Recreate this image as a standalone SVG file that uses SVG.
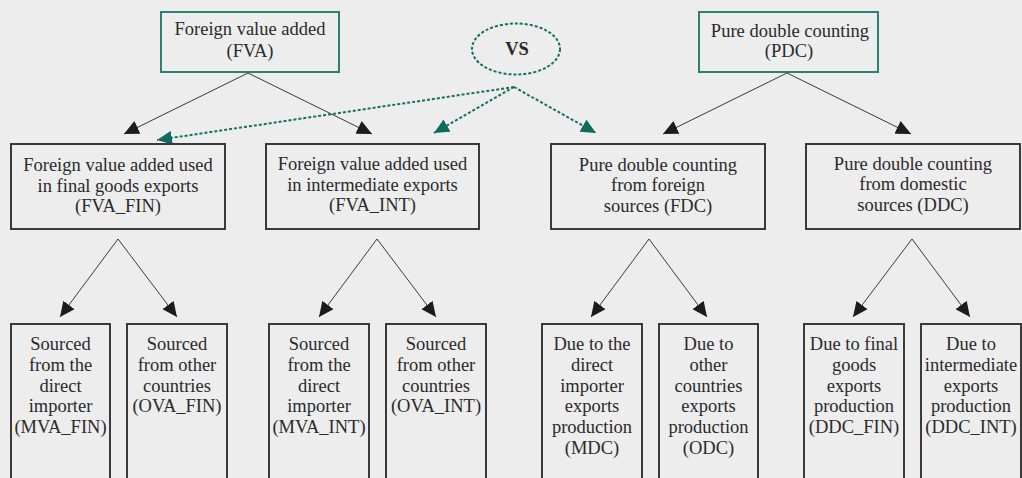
<svg xmlns="http://www.w3.org/2000/svg" width="1022" height="478" viewBox="0 0 1022 478">
<defs>
<style>
text{font-family:"Liberation Serif","Times New Roman",serif;font-size:18.5px;fill:#2a2a2a;text-anchor:middle}
.top{fill:none;stroke:#2b8074;stroke-width:2}
.box{fill:none;stroke:#3a3a3a;stroke-width:2}
.ln{stroke:#3a3a3a;stroke-width:1;fill:none}
.dl{stroke:#16705f;stroke-width:2;stroke-dasharray:3 2;fill:none}
.vs{font-weight:bold}
</style>
<marker id="ab" markerUnits="userSpaceOnUse" markerWidth="15" markerHeight="14" refX="15" refY="7" orient="auto" viewBox="0 0 15 14">
<path d="M0,0 L15,7 L0,14 z" fill="#1c1c1c"/>
</marker>
<marker id="at" markerUnits="userSpaceOnUse" markerWidth="15" markerHeight="14" refX="15" refY="7" orient="auto" viewBox="0 0 15 14">
<path d="M0,0 L15,7 L0,14 z" fill="#0f6b5d"/>
</marker>
</defs>
<rect x="0" y="0" width="1022" height="478" fill="#ededed"/>

<g id="connectors">
<line class="ln" x1="248" y1="73" x2="124" y2="134" marker-end="url(#ab)"/>
<line class="ln" x1="248" y1="73" x2="372" y2="134" marker-end="url(#ab)"/>
<line class="ln" x1="787" y1="73" x2="663" y2="134" marker-end="url(#ab)"/>
<line class="ln" x1="787" y1="73" x2="911" y2="134" marker-end="url(#ab)"/>
<line class="dl" x1="514" y1="87" x2="157" y2="140" marker-end="url(#at)"/>
<line class="dl" x1="514" y1="87" x2="434" y2="133" marker-end="url(#at)"/>
<line class="dl" x1="514" y1="87" x2="596" y2="133" marker-end="url(#at)"/>
<line class="ln" x1="118" y1="239" x2="60" y2="317" marker-end="url(#ab)"/>
<line class="ln" x1="118" y1="239" x2="177" y2="317" marker-end="url(#ab)"/>
<line class="ln" x1="377" y1="239" x2="319" y2="317" marker-end="url(#ab)"/>
<line class="ln" x1="377" y1="239" x2="436" y2="317" marker-end="url(#ab)"/>
<line class="ln" x1="649" y1="239" x2="591" y2="317" marker-end="url(#ab)"/>
<line class="ln" x1="649" y1="239" x2="707" y2="317" marker-end="url(#ab)"/>
<line class="ln" x1="912" y1="239" x2="853" y2="317" marker-end="url(#ab)"/>
<line class="ln" x1="912" y1="239" x2="970" y2="317" marker-end="url(#ab)"/>
</g>

<g id="fva">
<rect class="top" x="161" y="12" width="178" height="60"/>
<text x="250" y="35">Foreign value added</text>
<text x="250" y="57">(FVA)</text>
</g>
<g id="vs">
<ellipse cx="516" cy="49" rx="44" ry="25.5" class="dl"/>
<text class="vs" x="517" y="55">VS</text>
</g>
<g id="pdc">
<rect class="top" x="699" y="12" width="179" height="60"/>
<text x="790" y="37">Pure double counting</text>
<text x="789" y="57">(PDC)</text>
</g>

<g id="fva_fin">
<rect class="box" x="11" y="144" width="214" height="85"/>
<text x="118" y="171">Foreign value added used</text>
<text x="118" y="191.5">in final goods exports</text>
<text x="118" y="212">(FVA_FIN)</text>
</g>
<g id="fva_int">
<rect class="box" x="266" y="144" width="213" height="85"/>
<text x="372.5" y="170">Foreign value added used</text>
<text x="372.5" y="190.5">in intermediate exports</text>
<text x="372.5" y="211">(FVA_INT)</text>
</g>
<g id="fdc">
<rect class="box" x="551" y="144" width="214" height="85"/>
<text x="658" y="171">Pure double counting</text>
<text x="658" y="191">from foreign</text>
<text x="658" y="211.5">sources (FDC)</text>
</g>
<g id="ddc">
<rect class="box" x="806" y="144" width="214" height="85"/>
<text x="913" y="170">Pure double counting</text>
<text x="913" y="190">from domestic</text>
<text x="913" y="210.5">sources (DDC)</text>
</g>

<g id="mva_fin">
<rect class="box" x="11" y="324" width="99" height="170"/>
<text x="60.5" y="350">Sourced</text>
<text x="60.5" y="371">from the</text>
<text x="60.5" y="391.5">direct</text>
<text x="60.5" y="412">importer</text>
<text x="60.5" y="433">(MVA_FIN)</text>
</g>
<g id="ova_fin">
<rect class="box" x="127" y="324" width="100" height="170"/>
<text x="177" y="350">Sourced</text>
<text x="177" y="371">from other</text>
<text x="177" y="391.5">countries</text>
<text x="177" y="412">(OVA_FIN)</text>
</g>
<g id="mva_int">
<rect class="box" x="269" y="324" width="100" height="170"/>
<text x="319" y="350">Sourced</text>
<text x="319" y="371">from the</text>
<text x="319" y="391.5">direct</text>
<text x="319" y="412">importer</text>
<text x="319" y="433">(MVA_INT)</text>
</g>
<g id="ova_int">
<rect class="box" x="386" y="324" width="100" height="170"/>
<text x="436" y="350">Sourced</text>
<text x="436" y="371">from other</text>
<text x="436" y="391.5">countries</text>
<text x="436" y="412">(OVA_INT)</text>
</g>
<g id="mdc">
<rect class="box" x="542" y="324" width="100" height="170"/>
<text x="592" y="350">Due to the</text>
<text x="592" y="371">direct</text>
<text x="592" y="391.5">importer</text>
<text x="592" y="412">exports</text>
<text x="592" y="433">production</text>
<text x="592" y="454">(MDC)</text>
</g>
<g id="odc">
<rect class="box" x="659" y="324" width="99" height="170"/>
<text x="708.5" y="350">Due to</text>
<text x="708.5" y="371">other</text>
<text x="708.5" y="391.5">countries</text>
<text x="708.5" y="412">exports</text>
<text x="708.5" y="433">production</text>
<text x="708.5" y="454">(ODC)</text>
</g>
<g id="ddc_fin">
<rect class="box" x="804" y="324" width="100" height="170"/>
<text x="854" y="350">Due to final</text>
<text x="854" y="371">goods</text>
<text x="854" y="391.5">exports</text>
<text x="854" y="412">production</text>
<text x="854" y="433">(DDC_FIN)</text>
</g>
<g id="ddc_int">
<rect class="box" x="921" y="324" width="100" height="170"/>
<text x="971" y="350">Due to</text>
<text x="971" y="371">intermediate</text>
<text x="971" y="391.5">exports</text>
<text x="971" y="412">production</text>
<text x="971" y="433">(DDC_INT)</text>
</g>
</svg>
